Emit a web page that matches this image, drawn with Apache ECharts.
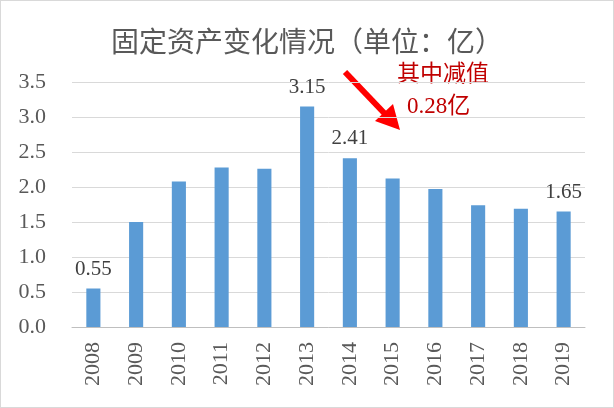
<!DOCTYPE html>
<html>
<head>
<meta charset="utf-8">
<script src="https://cdn.jsdelivr.net/npm/echarts@6/dist/echarts.min.js"></script>
<style>
html,body{margin:0;padding:0;background:#fff;}
#c{width:614px;height:408px;box-sizing:border-box;border:1px solid #d9d9d9;}
</style>
</head>
<body>
<div id="c"></div>
<script>
const years = ['2008','2009','2010','2011','2012','2013','2014','2015','2016','2017','2018','2019'];
const values = [0.55, 1.50, 2.08, 2.28, 2.26, 3.15, 2.41, 2.12, 1.97, 1.74, 1.69, 1.65];
const labelledYears = ['2008','2013','2014','2019'];
const titleText = '固定资产变化情况（单位：亿）';
const noteLines = ['其中减值', '0.28亿'];

const chart = echarts.init(document.getElementById('c'));
const serif = '"Liberation Serif", "DejaVu Serif", serif';
chart.setOption({
  animation: false,
  title: {
    text: titleText,
    left: 'center',
    top: 21,
    textStyle: {fontFamily: '"Noto Sans CJK SC"', fontSize: 28, fontWeight: 'normal', color: '#595959'}
  },
  grid: {left: 71, right: 28, top: 81, bottom: 80},
  xAxis: {
    type: 'category',
    data: years,
    axisLine: {lineStyle: {color: '#bfbfbf', width: 1}},
    axisTick: {show: false},
    axisLabel: {rotate: 90, margin: 15, color: '#595959', fontFamily: serif, fontSize: 22}
  },
  yAxis: {
    type: 'value',
    min: 0, max: 3.5, interval: 0.5,
    axisLine: {show: false},
    axisTick: {show: false},
    splitLine: {lineStyle: {color: '#d9d9d9'}},
    axisLabel: {margin: 26, color: '#595959', fontFamily: serif, fontSize: 22,
      formatter: v => v.toFixed(1)}
  },
  series: [{
    type: 'bar',
    barWidth: '33%',
    itemStyle: {color: '#5B9BD5'},
    data: values.map((v, i) => ({
      value: v,
      label: {
        show: labelledYears.includes(years[i]),
        position: 'top',
        distance: 9,
        color: '#404040',
        fontFamily: serif,
        fontSize: 21,
        formatter: p => p.value.toFixed(2)
      }
    }))
  }],
  graphic: [
    {type: 'text', left: 396, top: 60, style: {text: noteLines[0], font: '23px "Noto Sans CJK SC"', fill: '#C00000'}},
    {type: 'text', left: 406, top: 94, style: {text: noteLines[1], font: '23px "Liberation Serif", "Noto Sans CJK SC"', fill: '#C00000'}},
    {type: 'line', shape: {x1: 344, y1: 71, x2: 386, y2: 115}, style: {stroke: '#FF0000', lineWidth: 6}},
    {type: 'polygon', shape: {points: [[399,129],[374,120],[392,103]]}, style: {fill: '#FF0000'}}
  ]
});
</script>
</body>
</html>
